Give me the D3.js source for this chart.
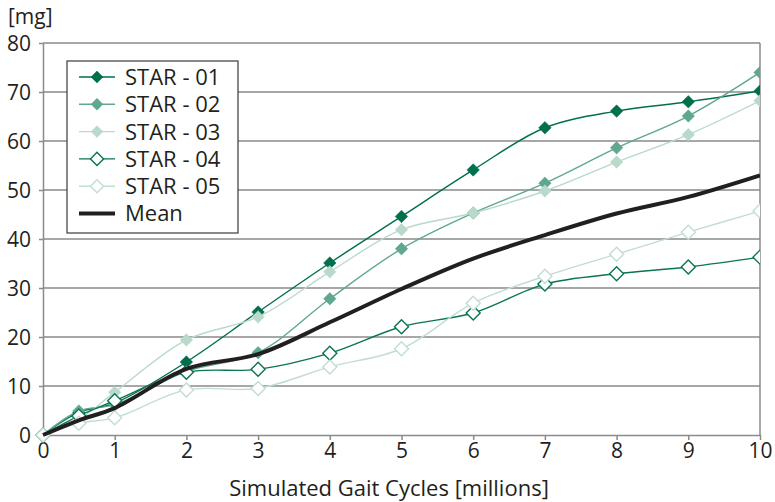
<!DOCTYPE html>
<html>
<head>
<meta charset="utf-8">
<script src="https://cdn.jsdelivr.net/npm/d3@7"></script>
<style>
  body { margin: 0; background: #fff; }
  svg text { font-family: "Open Sans", Lato, sans-serif; fill: #231f20; }
</style>
</head>
<body>
<div id="chart"></div>
<script>
// gait cycles in millions
var cycles = [0, 0.5, 1, 2, 3, 4, 5, 6, 7, 8, 9, 10];

var star01 = [0, 4.6, 6.5, 14.9, 25.1, 35.1, 44.6, 54.1, 62.7, 66.1, 68.0, 70.2];
var star02 = [0, 4.9, 6.2, 13.0, 16.8, 27.8, 38.0, 45.3, 51.4, 58.6, 65.1, 74.0];
var star03 = [0, 3.2, 8.7, 19.4, 24.1, 33.3, 41.9, 45.3, 49.8, 55.7, 61.3, 68.2];
var star04 = [0, 3.9, 7.0, 12.8, 13.4, 16.7, 22.1, 24.9, 30.8, 32.9, 34.3, 36.3];
var star05 = [0, 2.4, 3.5, 9.2, 9.5, 13.9, 17.6, 26.9, 32.4, 36.9, 41.4, 45.7];
var mean   = [0, 3.0, 5.5, 13.5, 16.5, 23.0, 29.8, 36.0, 40.8, 45.2, 48.6, 53.0];

var seriesNames = ["STAR - 01", "STAR - 02", "STAR - 03", "STAR - 04", "STAR - 05", "Mean"];
var yTicks = [0, 10, 20, 30, 40, 50, 60, 70, 80];
var xTicks = [0, 1, 2, 3, 4, 5, 6, 7, 8, 9, 10];

var series = [
  {name: seriesNames[0], values: star01, color: "#006f4e", fill: "#006f4e", open: false},
  {name: seriesNames[1], values: star02, color: "#5fa790", fill: "#5fa790", open: false},
  {name: seriesNames[2], values: star03, color: "#b9d9cb", fill: "#b9d9cb", open: false},
  {name: seriesNames[3], values: star04, color: "#0a7453", fill: "#fff", open: true},
  {name: seriesNames[4], values: star05, color: "#c2ddd1", fill: "#fff", open: true}
];

function drawChart() {
  var margin = {top: 43, right: 15, bottom: 67, left: 43};
  var width = 717;
  var height = 392;

  var xScale = d3.scaleLinear().domain([0, 10]).range([0, width]);
  var yScale = d3.scaleLinear().domain([0, 80]).range([height, 0]);

  var svg = d3.select("#chart").append("svg")
    .attr("width", 775)
    .attr("height", 502)
    .append("g")
    .attr("transform", "translate(" + margin.left + "," + margin.top + ")");

  svg.append("defs").append("clipPath").attr("id", "clip")
    .append("rect").attr("x", -20).attr("y", -20)
    .attr("width", width + 20).attr("height", height + 40);

  // gridlines
  svg.append("g").selectAll("line")
    .data(yTicks.filter(function(d) { return d > 0; }))
    .enter().append("line")
    .attr("x1", 0).attr("x2", width)
    .attr("y1", function(d) { return yScale(d); })
    .attr("y2", function(d) { return yScale(d); })
    .attr("stroke", "#8a8a8a").attr("stroke-width", 1.5);

  svg.append("line")
    .attr("x1", width).attr("x2", width).attr("y1", 0).attr("y2", height)
    .attr("stroke", "#8a8a8a").attr("stroke-width", 1.5);

  var xAxis = svg.append("g")
    .attr("transform", "translate(0," + height + ")")
    .call(d3.axisBottom(xScale).tickValues(xTicks).tickSize(5).tickPadding(3).tickSizeOuter(0));
  var yAxis = svg.append("g")
    .call(d3.axisLeft(yScale).tickValues(yTicks).tickSize(4).tickPadding(8).tickSizeOuter(0));

  [xAxis, yAxis].forEach(function(ax) {
    ax.select(".domain").attr("stroke", "#8a8a8a").attr("stroke-width", 1.5);
    ax.selectAll(".tick line").attr("stroke", "#8a8a8a").attr("stroke-width", 1.5);
    ax.selectAll("text").style("font-size", "21px").attr("fill", "#231f20")
      .style("font-family", "'Open Sans', Lato, sans-serif");
  });
  yAxis.selectAll("text").attr("dy", "0.36em");

  svg.append("text")
    .attr("x", -35).attr("y", -19)
    .style("font-size", "21px")
    .text("[mg]");

  svg.append("text")
    .attr("x", 346).attr("y", height + 61)
    .style("text-anchor", "middle")
    .style("font-size", "22px")
    .text("Simulated Gait Cycles [millions]");

  var line = d3.line()
    .x(function(d, i) { return xScale(cycles[i]); })
    .y(function(d) { return yScale(d); })
    .curve(d3.curveCatmullRom);

  var plot = svg.append("g").attr("clip-path", "url(#clip)");

  var diamond = d3.symbolDiamond2 || d3.symbolDiamond;

  series.forEach(function(s) {
    plot.append("path")
      .datum(s.values)
      .attr("fill", "none")
      .attr("stroke", s.color)
      .attr("stroke-width", 1.4)
      .attr("d", line);
  });

  series.forEach(function(s) {
    plot.selectAll(null)
      .data(s.values)
      .enter().append("path")
      .attr("transform", function(d, i) {
        return "translate(" + xScale(cycles[i]) + "," + yScale(d) + ")";
      })
      .attr("d", d3.symbol().type(diamond).size(s.open ? 125 : 100))
      .attr("fill", s.fill)
      .attr("stroke", s.color)
      .attr("stroke-width", s.open ? 1.4 : 0.5);
  });

  plot.append("path")
    .datum(mean)
    .attr("fill", "none")
    .attr("stroke", "#231f20")
    .attr("stroke-width", 4)
    .attr("d", line);

  // legend
  var legend = svg.append("g").attr("transform", "translate(24,18)");
  legend.append("rect")
    .attr("x", 0).attr("y", 0).attr("width", 171).attr("height", 172)
    .attr("fill", "#fff").attr("stroke", "#3a3a3a").attr("stroke-width", 1.2);

  var rowH = 27.3;
  series.forEach(function(s, i) {
    var y = 16 + i * rowH;
    legend.append("line")
      .attr("x1", 12).attr("x2", 48).attr("y1", y).attr("y2", y)
      .attr("stroke", s.color).attr("stroke-width", 1.4);
    legend.append("path")
      .attr("transform", "translate(30," + y + ")")
      .attr("d", d3.symbol().type(diamond).size(s.open ? 110 : 90))
      .attr("fill", s.fill)
      .attr("stroke", s.color)
      .attr("stroke-width", s.open ? 1.4 : 0.5);
    legend.append("text")
      .attr("x", 58).attr("y", y).attr("dy", "0.36em")
      .style("font-size", "22px")
      .text(s.name);
  });
  var my = 16 + 5 * rowH;
  legend.append("line")
    .attr("x1", 12).attr("x2", 48).attr("y1", my).attr("y2", my)
    .attr("stroke", "#231f20").attr("stroke-width", 4);
  legend.append("text")
    .attr("x", 58).attr("y", my).attr("dy", "0.36em")
    .style("font-size", "22px")
    .text(seriesNames[5]);
}

drawChart();
</script>
</body>
</html>
